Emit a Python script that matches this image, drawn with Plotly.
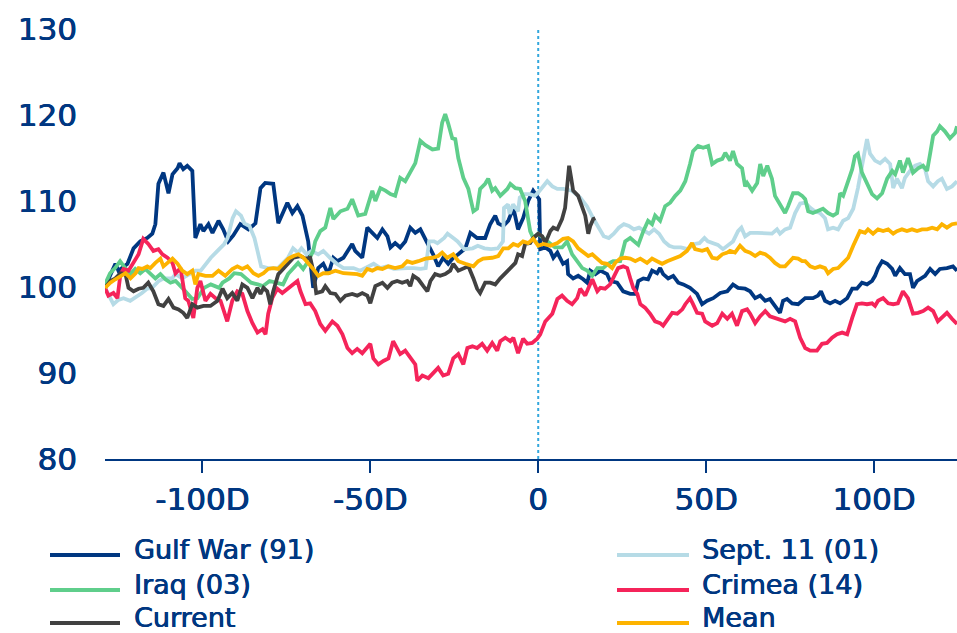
import plotly.graph_objects as go

# Index level (start = 100) by trading day relative to event day 0
GULF_WAR = [(-129,100), (-127.4,101.5), (-125.9,102.7), (-125,101.9), (-122.3,102.7), (-120.5,104.5), (-118.5,105.3), (-116.4,105.7), (-114.9,106.2), (-114,107.3),
            (-113.1,112), (-111.6,113.3), (-110.1,110.9), (-108.9,113.1), (-107.4,113.8), (-106.8,114.4), (-105.7,113.7), (-104.5,114.1), (-103,113.5), (-102.1,105.7),
            (-100.6,107.3), (-99.7,106.5), (-98.2,107.3), (-97,106.3), (-95.2,107.7), (-93.8,106.7), (-92.3,105.3), (-90.8,106), (-88.7,107.3), (-86.3,106.7),
            (-84.2,107.4), (-82.7,111.5), (-81.3,112.1), (-78.9,112), (-77.4,107.4), (-74.7,109.8), (-73.2,108.6), (-71.7,109.4), (-70.2,108.3), (-68.5,105.3),
            (-67,99.9), (-65.5,102.2), (-64,102.7), (-62.5,101.5), (-61,103.4), (-59.8,103), (-58,103.4), (-55.4,105), (-54.5,104.2), (-52.4,103.4),
            (-50.9,106.9), (-49.4,106.3), (-47.9,105.7), (-46.4,106.7), (-44.9,105.9), (-44,104.6), (-42.6,105.1), (-41.1,104.6), (-39.6,105.3), (-38.1,106.9),
            (-36.6,106.3), (-35.1,106.7), (-33.6,105.6), (-31.3,103.8), (-29.8,102.4), (-28.3,103.4), (-26.8,102.7), (-25.3,103.4), (-23.8,103.8), (-21.7,104.5),
            (-20.2,106.3), (-18.2,105.7), (-15.8,105.7), (-14.3,107.3), (-12.8,108.3), (-11.9,107.4), (-10.4,107.1), (-8.9,107.7), (-7.4,109.2), (-6,106.7),
            (-4.5,108), (-3,110), (-1.5,111.2), (-0.5,110.6), (0.3,110.2), (0.6,104.4), (2.1,104.6), (3.6,104.2), (4.5,103.4), (5.7,104),
            (7.4,102.7), (8.6,103), (8.9,101.5), (10.4,101), (11.9,101.3), (13.4,100.9), (14.6,100.5), (15.5,101.9), (17,101.5), (18.5,101.9),
            (20.5,101.5), (21.4,100.7), (23.5,100.5), (25.3,99.5), (27.4,99.2), (28.9,99.2), (29.8,100.7), (31.3,101), (32.7,100.9), (33.9,101.9),
            (35.4,101.6), (36.3,102.2), (37.2,101.5), (38.7,101), (40.2,101.3), (41.7,100.5), (43.2,100.3), (45.2,99.9), (47.3,99.2), (48.8,98),
            (50.3,98.4), (52.1,98.7), (54.2,99.3), (56.3,99.5), (58,100.3), (59.5,99.9), (61.6,99.8), (63.1,99.5), (64.6,98.7), (66.1,99),
            (67.6,98.4), (69,98.6), (70.5,97.8), (72,97), (72.9,98.4), (74.1,98.6), (75.6,98.1), (77.4,98), (79.5,98.7), (81.8,98.7),
            (83.3,99), (84.2,99.5), (85.4,98.4), (86.9,98.1), (88.4,98.4), (89.9,98.1), (92,98.7), (93.5,99.8), (94.9,99.8), (96.4,100.5),
            (97.9,100.3), (99.4,100.7), (100.3,101.3), (101.2,102.2), (102.4,103), (103.9,102.7), (105.4,102.1), (106.3,101.3), (107.7,102.2), (109.2,101.5),
            (110.7,101.5), (111.6,99.9), (112.8,100.7), (114.3,101), (115.2,101.3), (116.7,102.1), (118.2,101.5), (119.6,102.1), (121.7,102.2), (123.5,102.4),
            (124.7,101.9)]

SEPT_11 = [(-129,99.9), (-126.5,98), (-125,98.5), (-123.5,98.7), (-121.5,98.4), (-119.5,98.9), (-118,99.3), (-116.5,99.8), (-115,99.9), (-113,100.7),
           (-111.5,101), (-109,101), (-108,101.5), (-106,101), (-104,101.5), (-102,101.9), (-100.5,101.9), (-99,102.7), (-97.5,103.4), (-95.5,104.2),
           (-93.5,105), (-92.5,105.7), (-91,108), (-90,108.8), (-88.5,108.3), (-87.5,107.4), (-86,107.1), (-84.5,105.7), (-83.5,104.2), (-82.5,102.4),
           (-80.5,102.2), (-77.5,102.2), (-74.5,103.4), (-73,104.5), (-71.5,104), (-70.5,104.5), (-69,103.8), (-67.5,104.2), (-65.5,103.8), (-64,104.2),
           (-62,103.4), (-60,102.7), (-58,102.2), (-55,102.2), (-53,101.9), (-51.5,102.2), (-49,102.7), (-47,102.2), (-45,102.4), (-43,102.1),
           (-41,102.2), (-39,102.2), (-37,102.2), (-35,102.1), (-33.5,102.2), (-32.5,105.3), (-31,105.3), (-30,105.1), (-28,105.7), (-27,106.2),
           (-25,105.6), (-24,105.3), (-22,104.4), (-19.5,104.5), (-18,104.8), (-16,104.5), (-14,104.4), (-12,104.5), (-10.5,105.3), (-10.2,109.2),
           (-9,109.6), (-8.5,108.5), (-7.5,109.6), (-6,108.8), (-5.5,110.4), (-4,110.8), (-2.5,110.8), (-1,110.6), (0,111), (1.5,111.7),
           (2.7,112.3), (4.2,111.7), (5.7,111.4), (7.5,111.4), (10,111.2), (12.5,110.4), (14.5,109.4), (16.5,107.9), (18,106.9), (19.5,105.9),
           (21,105.7), (22.5,106.2), (24,106.9), (25.5,107.3), (27,107.1), (28.5,106.7), (30,106.9), (31.5,106.5), (33,106.2), (34.5,106.7),
           (36,106.2), (37.5,105.3), (39,104.8), (40.5,104.6), (42.5,104.6), (44.5,104.4), (46.5,105), (48,105.1), (49.5,105.7), (50.5,105.3),
           (52,105.1), (53.5,104.9), (55,104.4), (56.5,104.8), (58,105.3), (59.5,106.5), (60.5,106.9), (61.6,105.9), (63.1,106.3), (65.2,106.3),
           (67.6,106.2), (69.6,106.2), (71.1,106.7), (72,106.2), (73.5,106.7), (75,106.9), (76.5,108.6), (78,109.7), (79.5,109.8), (81,109.2),
           (82.4,108.8), (83.9,108.6), (85.4,108), (86.3,106.7), (87.8,106.9), (89.3,106.7), (90.8,107.7), (92.3,108), (93.8,109.1), (95.2,111.5),
           (96.7,114.7), (97.9,117.2), (98.8,115.5), (100.3,114.7), (101.8,114.4), (103.3,114.9), (104.8,114.3), (105.7,111.5), (106.8,112.6), (108.3,111.5),
           (109.2,112.7), (110.7,113.5), (112.2,114.1), (113.7,114.3), (115.2,113.7), (116.1,112.3), (117.6,111.7), (119,112.3), (120.2,112.6), (121.7,111.4),
           (123.2,111.7), (124.7,112.3)]

IRAQ = [(-129,100.3), (-127.5,101.6), (-126,102.2), (-124.5,103), (-123,102.2), (-121.5,101.5), (-120,102.1), (-118.5,101.6), (-117,102.1), (-115.5,101.6),
        (-114,101), (-112.5,101.5), (-111,100.9), (-109.5,100.5), (-108,100.7), (-106,99.9), (-104.5,99.2), (-103,98.6), (-101.5,98.7), (-99.5,99.9),
        (-97.5,100.3), (-95,99.9), (-94,100.5), (-92,101), (-90.5,101.6), (-88.5,101.5), (-87,101), (-85.5,100.5), (-83.5,100.3), (-82,100.1),
        (-80,100.7), (-77.5,100.5), (-76,100.3), (-74.5,101.5), (-73,102.2), (-71.5,102.8), (-70,102.1), (-68.5,103), (-67,104.2), (-66.4,105.3),
        (-64.9,106.5), (-63.4,106.9), (-61.9,109.2), (-61,107.9), (-58.9,108.8), (-56.8,109.1), (-55.4,110.2), (-53.6,108.3), (-51.5,108.5), (-49.4,111.2),
        (-48.5,110), (-47,111.5), (-45.5,111.2), (-44,110.8), (-42.6,110.6), (-41.1,112.7), (-39.6,112.3), (-38.1,113.3), (-36.6,114.4), (-35.1,117),
        (-33.6,116.5), (-31.5,116), (-29.8,116.1), (-28.6,119.1), (-27.7,120.1), (-26.8,119), (-25.6,117.3), (-24.7,117.2), (-23.8,115), (-22.3,112.7),
        (-20.8,111.4), (-19.3,108.8), (-18.2,109.1), (-17.3,111.4), (-15.8,112), (-14.9,112.6), (-13.7,111.2), (-12.8,111.5), (-11.3,110.6), (-9.2,111.4),
        (-8.3,112), (-6.8,111.5), (-5.4,111.4), (-3.9,110), (-2.4,106.5), (-1.5,105.7), (0,106.2), (1.5,105.7), (3.6,105), (5,104.6),
        (7.1,104.6), (8.6,105.3), (10.1,103.8), (11.6,103), (13.1,102.2), (14.6,101.9), (16.1,101.3), (17.6,102.2), (19.3,102.2), (20.8,102.7),
        (22.3,103), (24.4,103), (25.9,105.3), (27.4,105.7), (29.8,104.9), (31.3,106.5), (32.7,107.7), (33.9,107.3), (34.8,108.3), (36.3,107.7),
        (37.8,109.4), (39.3,109.8), (40.8,110.6), (42.3,111.2), (43.8,112.3), (45.2,114.3), (46.1,115.8), (47.6,116.4), (49.1,116.2), (50.6,116.4),
        (51.8,114.3), (53.3,114.7), (54.8,114.9), (55.7,115.6), (57.1,114.7), (58,115.8), (59.2,114.3), (60.7,113.8), (61.6,111.7), (62.2,112.1),
        (63.7,111.2), (65.2,112.1), (66.1,114.3), (67,112.9), (68.2,114.1), (69.6,112.6), (70.5,110.6), (71.4,110), (72.6,109.1), (73.5,108.6),
        (74.4,109.4), (75.9,110.9), (77.4,110.9), (78.6,110.6), (79.5,110.2), (80.4,108.8), (81.8,108.6), (83.3,108.8), (84.8,109.1), (86.3,108.6),
        (87.8,108.3), (89,108.6), (89.9,110.9), (90.8,110.6), (92,112), (93.5,113.7), (94.3,115.2), (95.2,115.5), (96.4,113.3), (97.9,112),
        (99.4,110.8), (100.9,110.3), (102.4,110.9), (103.9,112.6), (105.4,113.5), (106.3,113.1), (107.7,114.7), (108.6,113.3), (110.1,115), (111.6,113.3),
        (113.1,113.8), (114.6,114.1), (115.8,113.5), (116.7,115.5), (117.6,117.6), (118.8,118.1), (119.6,118.7), (121.1,118.1), (122.6,117.3), (124.1,117.9),
        (124.7,118.7)]

CRIMEA = [(-129,99.9), (-128,99), (-126.5,99.3), (-125.3,98.7), (-124.4,101.5), (-123.5,102.1), (-122,101.9), (-120.5,102.8), (-119,103.8), (-117.6,105.6),
          (-116.1,105), (-114.6,104.2), (-113.1,104.4), (-111.9,103.8), (-110.4,103.4), (-108.9,102.8), (-108,101.6), (-106.5,102.2), (-105.1,98.7), (-104.2,98.4),
          (-102.7,96.4), (-101.5,99.9), (-100.6,100.7), (-99.1,98.4), (-97.6,99.2), (-96.1,98.7), (-94.6,98.4), (-92.6,96), (-91.1,98.4), (-89.6,99.5),
          (-88.1,99.2), (-86.6,97.2), (-85.1,95.8), (-83.6,94.7), (-82.1,95.1), (-81.2,94.5), (-80.4,96.9), (-79.2,98.7), (-77.7,99.8), (-76.2,99.3),
          (-74.7,99.8), (-73.2,100.3), (-71.7,100.7), (-70.8,99.5), (-69.3,98), (-67.9,98.1), (-66.4,97.2), (-64.9,95.7), (-63.4,94.9), (-61.3,96),
          (-59.8,95.5), (-58.3,94.5), (-56.8,92.9), (-55.4,92.3), (-53.9,92.8), (-52.4,92.3), (-50.9,92.9), (-50,93.4), (-49.1,91.7), (-47.6,91),
          (-46.1,91.4), (-44.6,91.7), (-43.2,93.7), (-42,92.9), (-41.1,92.2), (-39.6,92.6), (-38.1,91.7), (-36.6,91), (-36,89.1), (-34.5,89.7),
          (-32.7,89.4), (-31.3,90), (-29.8,90.6), (-28.3,89.7), (-26.8,89.9), (-25.3,91.7), (-23.8,92.2), (-22.3,91), (-21.1,92.9), (-19.6,93.1),
          (-18.2,92.9), (-16.7,93.4), (-15.2,92.6), (-13.7,93.5), (-12.2,92.6), (-11.3,93.7), (-9.8,94.1), (-8.3,93.7), (-7.4,94.1), (-6,92.3),
          (-4.5,94), (-3.3,93.4), (-1.8,93.5), (-0.3,94), (0.6,94.5), (2.1,96), (2.7,96.3), (4.2,96.9), (5.7,98.6), (7.1,99),
          (8.6,98.4), (10.1,98), (11.6,98.7), (12.5,99.8), (14,99), (14.9,99.9), (16.1,100.9), (17.6,99.5), (18.5,99.9), (19.9,99.8),
          (21.4,100.3), (22.9,101.5), (23.8,102.2), (25.3,102.4), (26.5,102.2), (27.4,101), (28.3,99.9), (29.5,99.2), (30.4,98), (31.8,97.6),
          (33.3,96.9), (34.8,96), (36.3,95.8), (37.2,95.5), (38.7,96.3), (39.9,97), (41.4,96.9), (42.9,97.4), (43.8,98), (45.2,98.7),
          (46.1,98), (47.3,97), (48.8,96.9), (49.7,96), (51.8,95.5), (53.3,95.8), (54.8,96.9), (56.3,96.3), (57.7,96.9), (59.2,95.5),
          (60.7,97.2), (62.2,97.4), (63.1,96.9), (64.6,95.8), (66.1,96.6), (67.6,97.2), (69,96.6), (70.5,96.4), (72,96.3), (73.5,96),
          (75,96.3), (76.5,96), (78,94.1), (79.5,92.9), (81,92.6), (83,92.6), (84.5,93.4), (86,93.5), (87.5,94.1), (89,94.5),
          (90.5,94.7), (92,94.5), (93.5,96.4), (94.9,98), (96.4,98.1), (97.9,98), (99.4,98.1), (100.3,97.8), (101.2,98.4), (102.7,98.7),
          (104.2,98.1), (105.7,98), (107.1,98.1), (108.6,99.5), (110.1,98.7), (111.6,96.9), (113.1,97), (114.6,97.2), (116.1,97.6), (117.6,97.2),
          (119,96), (120.2,96.4), (121.7,97), (123.2,96.3), (124.7,95.7)]

CURRENT = [(-129,99.9), (-127.4,100.7), (-125.9,101), (-124.4,101.6), (-122.9,101.5), (-122,99.9), (-120.5,99.5), (-119,99.8), (-117.6,99.9), (-116.1,100.5),
           (-114.6,99.5), (-113.1,98), (-111.6,97.8), (-110.1,98.6), (-108.6,97.6), (-107.1,97.4), (-105.7,97), (-104.5,96.4), (-103,98), (-101.5,97.6),
           (-99.7,97.8), (-97.6,97.8), (-95.5,98.4), (-94,99.8), (-92.6,98.7), (-91.1,99.3), (-89.6,98.4), (-88.1,100.3), (-86.6,99.9), (-85.1,98.7),
           (-83.6,99.9), (-82.7,99.2), (-81.8,99.9), (-80.7,99.5), (-79.8,98), (-78.9,99.5), (-77.4,101.5), (-75.9,102.1), (-74.4,102.8), (-72.9,103.4),
           (-70.8,103.6), (-69.3,103.3), (-67.9,103.4), (-67,101.9), (-66.1,99.3), (-64.3,99.5), (-63.4,100.1), (-61.9,99.3), (-60.4,99.2), (-58.9,98.4),
           (-57.4,99), (-55.4,99.2), (-53.9,99), (-52.4,99.3), (-50.9,99), (-50,98.1), (-48.5,100.1), (-46.4,100.5), (-44.9,99.9), (-43.5,100.5),
           (-42,100.7), (-40.5,100.5), (-39,100.7), (-38.1,100.1), (-37.2,101.3), (-35.7,100.9), (-34.2,100.1), (-33,99.5), (-32.1,100.7), (-30.7,101.5),
           (-29.2,101.3), (-27.7,101.5), (-26.2,101.9), (-25.3,102.7), (-23.8,101.9), (-22.3,102.1), (-20.8,102.4), (-19.3,101), (-18.2,99.8), (-17.3,99.3),
           (-15.8,100.5), (-14.3,100.5), (-12.8,100.3), (-11.3,101), (-9.8,101.6), (-8.3,102.2), (-6.8,102.8), (-6,103.8), (-4.8,103.6), (-3.9,105),
           (-2.4,105.1), (-1.5,105.7), (0,106.2), (1.2,105.9), (2.1,105.1), (3.6,106.5), (4.5,106.9), (5.7,106.7), (7.1,107.9), (8,109.2),
           (8.6,111.2), (9.2,114.1), (9.8,112.7), (10.4,111.2), (11.9,110.6), (13.1,109.4), (14,108.3), (14.9,106.2), (15.5,107.1), (16.4,107.9),
           (17,108)]

MEAN = [(-129,99.9), (-127.4,100.5), (-125.9,100.9), (-124.4,101.3), (-122.9,101.6), (-121.4,101), (-119.9,101.6), (-119,102.2), (-117.9,102.1), (-116.4,102.4),
        (-115.5,102.2), (-114,102.8), (-112.5,103.3), (-111.6,102.4), (-110.4,102.8), (-108.9,103.3), (-107.4,102.7), (-106,101.9), (-104.5,101.5), (-103,101.9),
        (-102.1,100.3), (-101.2,101.5), (-99.1,101.3), (-97,101.3), (-95.2,101.9), (-93.2,101.3), (-91.1,102.1), (-89.6,102.4), (-88.1,102.1), (-86.6,102.4),
        (-84.8,101.6), (-83.3,101.3), (-81.8,101.6), (-80.4,102.1), (-78.9,102.2), (-77.4,102.1), (-75.9,102.7), (-74.4,103.3), (-72.9,103.6), (-71.4,103.8),
        (-69.9,103.4), (-68.5,102.8), (-67,102.1), (-65.5,101.3), (-64,101.6), (-62.5,101.6), (-60.4,101.9), (-58,101.6), (-56,101.6), (-53.9,101.5),
        (-52.4,101.3), (-50.9,102.1), (-49.4,101.9), (-47.9,102.2), (-46.4,102.1), (-44.6,102.4), (-42.6,102.2), (-40.5,102.4), (-39,103), (-37.5,102.8),
        (-35.7,103), (-33.6,103.3), (-31.5,103.4), (-29.8,103.6), (-28.6,104), (-27.1,103.4), (-25.3,103.8), (-23.8,103), (-21.7,102.7), (-19.3,102.4),
        (-17.9,103), (-16.4,103.3), (-13.7,103.4), (-11.9,103.6), (-10.4,104.5), (-8.9,104.5), (-7.4,105), (-6,104.8), (-4.5,105.3), (-3,105.1),
        (-1.5,105.6), (0,104.8), (1.5,105), (3.6,104.8), (5.7,105.1), (7.4,105.6), (8.9,105.7), (10.4,105.3), (11.9,104.5), (13.4,104),
        (14.9,103.6), (16.1,103.8), (17.6,103.3), (19,102.8), (20.5,102.7), (22,102.2), (22.9,102.8), (24.4,103.3), (25.9,103.4), (27.4,103.3),
        (28.9,103), (30.4,103.3), (32.4,102.8), (33.9,103.3), (35.4,103), (36.9,102.7), (38.4,103), (40.2,103.3), (42.3,103.6), (44.3,104.2),
        (45.8,105.1), (46.7,104.4), (48.8,104.2), (50.3,104.4), (51.8,103.4), (53.3,103.3), (54.8,103.8), (56.3,104), (57.1,104.2), (58.6,104),
        (60.1,104.8), (61.6,104.2), (63.1,104), (64.6,103.6), (66.1,104), (67.6,103.8), (69,103.4), (70.5,102.8), (72,102.4), (73.5,102.4),
        (74.4,102.8), (75.9,103.4), (77.4,103.3), (78.6,103), (79.5,103), (81,102.4), (82.4,102.2), (83.9,102.4), (85.4,102.2), (86.3,101.6),
        (87.8,102.1), (89.3,102.2), (90.8,102.8), (92.3,103.4), (93.8,104.8), (94.9,105.9), (95.8,106.5), (97.3,106.3), (98.2,106.7), (99.7,106.2),
        (101.2,106.7), (102.7,106.5), (104.2,106.7), (105.7,106.2), (106.8,106.5), (108.3,106.7), (109.8,106.5), (111.3,106.7), (112.8,106.5), (114.3,106.7),
        (115.8,106.7), (117.3,106.9), (118.8,106.7), (120.2,107.3), (121.7,106.9), (123.2,107.3), (124.7,107.4)]

SERIES_NAMES = ["Gulf War (91)", "Sept. 11 (01)", "Iraq (03)", "Crimea (14)", "Current", "Mean"]
SERIES_DATA = [GULF_WAR, SEPT_11, IRAQ, CRIMEA, CURRENT, MEAN]
SERIES_COLORS = ["#003781", "#B6DBE6", "#5FCE8B", "#F5245A", "#414141", "#FDB300"]

X_TICKS = [-100, -50, 0, 50, 100]
X_TICK_LABELS = ["-100D", "-50D", "0", "50D", "100D"]
Y_TICKS = [80, 90, 100, 110, 120, 130]

NAVY = "#003781"
FONT = "DejaVu Sans"
# a hairline text shadow gives the labels a medium stroke weight
HEAVY = "0.5px 0 0 #003781, -0.3px 0 0 #003781"

W, H = 957, 633
M_L, M_R, M_T, M_B = 105, 0, 29, 174


def px_to_paper(px, py):
    """Convert a pixel position on the page to paper coordinates."""
    pw = W - M_L - M_R
    ph = H - M_T - M_B
    return (px - M_L) / pw, (H - M_B - py) / ph


fig = go.Figure()

for name, data, color in zip(SERIES_NAMES, SERIES_DATA, SERIES_COLORS):
    days = [d for d, _ in data]
    values = [v for _, v in data]
    fig.add_trace(go.Scatter(
        x=days, y=values, mode="lines", name=name,
        line=dict(color=color, width=3.8, shape="linear"),
        showlegend=False, hoverinfo="skip",
    ))

# Event day marker
fig.add_shape(type="line", xref="x", yref="y", x0=0, x1=0, y0=80, y1=130,
              line=dict(color="#33A7DD", width=2, dash="dot"), layer="below")

# Two-column legend beneath the plot
legend_cols = [(50, 120, 133), (617, 689, 701)]
legend_text_rows = [549, 584, 617]
for i, (name, color) in enumerate(zip(SERIES_NAMES, SERIES_COLORS)):
    row, col = divmod(i, 2)
    lx0, lx1, tx = legend_cols[col]
    ty = legend_text_rows[row]
    x0, y0 = px_to_paper(lx0, ty + 6)
    x1, _ = px_to_paper(lx1, ty + 6)
    fig.add_shape(type="line", xref="paper", yref="paper", x0=x0, x1=x1, y0=y0, y1=y0,
                  line=dict(color=color, width=4))
    txp, typ = px_to_paper(tx, ty)
    fig.add_annotation(x=txp, y=typ, xref="paper", yref="paper", text=name,
                       showarrow=False, xanchor="left", yanchor="middle", borderpad=0,
                       font=dict(family=FONT, size=27, color=NAVY, shadow=HEAVY))

fig.update_layout(
    width=W, height=H,
    margin=dict(l=M_L, r=M_R, t=M_T, b=M_B),
    paper_bgcolor="white", plot_bgcolor="white",
    font=dict(family=FONT, color=NAVY),
    xaxis=dict(
        range=[-129, 124.7], tickmode="array", tickvals=X_TICKS, ticktext=X_TICK_LABELS,
        showgrid=False, zeroline=False, showline=True, linecolor=NAVY, linewidth=2,
        ticks="outside", ticklen=12, tickwidth=2, tickcolor=NAVY,
        tickfont=dict(family=FONT, size=31, color=NAVY, shadow=HEAVY),
    ),
    yaxis=dict(
        range=[80, 130], tickmode="array", tickvals=Y_TICKS,
        showgrid=False, zeroline=False, showline=False, ticks="",
        ticklabelstandoff=27,
        tickfont=dict(family=FONT, size=31, color=NAVY, shadow=HEAVY),
    ),
)

fig.write_html("out.html")
